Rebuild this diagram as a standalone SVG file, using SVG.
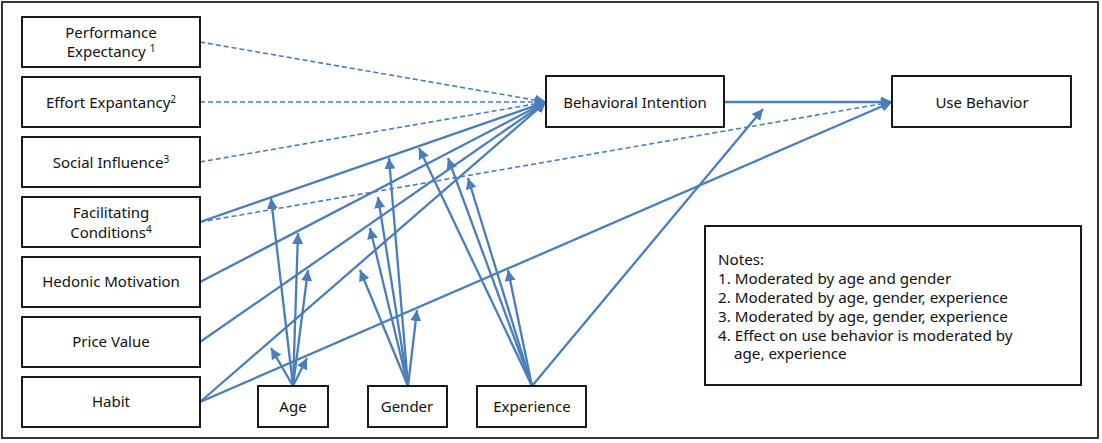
<svg xmlns="http://www.w3.org/2000/svg" width="1102" height="443" viewBox="0 0 1102 443">
<defs>
<style>
.box{fill:#fff;stroke:#000;stroke-width:1.8}
.lbl{font-family:"Noto Sans","Liberation Sans",sans-serif;font-size:15px;fill:#111;text-anchor:middle}
.note{font-family:"Noto Sans","Liberation Sans",sans-serif;font-size:15.2px;fill:#111}
.sup{font-size:10px}
.c{fill:none;stroke:#4A7EBB;stroke-width:2.3;marker-end:url(#ah)}
.d{fill:none;stroke:#4A7EBB;stroke-width:1.6;stroke-dasharray:5 3;marker-end:url(#ah)}
</style>
<marker id="ah" markerUnits="userSpaceOnUse" markerWidth="12" markerHeight="11" refX="11" refY="5.5" orient="auto">
<path d="M0,0 L11,5.5 L0,11 z" fill="#4A7EBB"/>
</marker>
</defs>
<rect x="2" y="2" width="1096" height="436" fill="#fff" stroke="#222" stroke-width="1.8"/>

<g id="connectors">
<path class="d" d="M200,42 L546,102"/>
<path class="d" d="M200,102 L546,102"/>
<path class="d" d="M200,162 L546,102"/>
<path class="d" d="M200,222 L892,102"/>
<path class="c" d="M200,222 L546,102"/>
<path class="c" d="M200,282 L546,102"/>
<path class="c" d="M200,342 L546,102"/>
<path class="c" d="M200,402 L546,102"/>
<path class="c" d="M200,402 L892,102"/>
<path class="c" d="M724,102 L892,102"/>
<path class="c" d="M293,386 L271,198"/>
<path class="c" d="M293,386 L298,233"/>
<path class="c" d="M293,386 L308,270"/>
<path class="c" d="M293,386 L271,348"/>
<path class="c" d="M293,386 L307,358"/>
<path class="c" d="M408,386 L360,270"/>
<path class="c" d="M408,386 L370,228"/>
<path class="c" d="M408,386 L378,197"/>
<path class="c" d="M408,386 L389,158"/>
<path class="c" d="M408,386 L417,310"/>
<path class="c" d="M532,386 L419,148"/>
<path class="c" d="M532,386 L448,158"/>
<path class="c" d="M532,386 L468,178"/>
<path class="c" d="M532,386 L508,270"/>
<path class="c" d="M532,386 L763,109"/>
</g>

<g id="pe"><rect class="box" x="22" y="17" width="178" height="50"/>
<text class="lbl" x="111" y="38">Performance</text>
<text class="lbl" x="111" y="57">Expectancy <tspan class="sup" dy="-5">1</tspan></text></g>
<g id="ee"><rect class="box" x="22" y="77" width="178" height="50"/>
<text class="lbl" x="111" y="108">Effort Expantancy<tspan class="sup" dy="-5">2</tspan></text></g>
<g id="si"><rect class="box" x="22" y="137" width="178" height="50"/>
<text class="lbl" x="111" y="168">Social Influence<tspan class="sup" dy="-5">3</tspan></text></g>
<g id="fc"><rect class="box" x="22" y="197" width="178" height="50"/>
<text class="lbl" x="111" y="218">Facilitating</text>
<text class="lbl" x="111" y="238">Conditions<tspan class="sup" dy="-5">4</tspan></text></g>
<g id="hm"><rect class="box" x="22" y="257" width="178" height="50"/>
<text class="lbl" x="111" y="287">Hedonic Motivation</text></g>
<g id="pv"><rect class="box" x="22" y="317" width="178" height="50"/>
<text class="lbl" x="111" y="347">Price Value</text></g>
<g id="hb"><rect class="box" x="22" y="377" width="178" height="50"/>
<text class="lbl" x="111" y="407">Habit</text></g>

<g id="bi"><rect class="box" x="546" y="76" width="178" height="51"/>
<text class="lbl" x="635" y="108">Behavioral Intention</text></g>
<g id="ub"><rect class="box" x="892" y="76" width="179" height="51"/>
<text class="lbl" x="982" y="108">Use Behavior</text></g>

<g id="age"><rect class="box" x="258" y="386" width="70" height="41"/>
<text class="lbl" x="293" y="412">Age</text></g>
<g id="gender"><rect class="box" x="368" y="386" width="79" height="41"/>
<text class="lbl" x="407" y="412">Gender</text></g>
<g id="experience"><rect class="box" x="477" y="386" width="109" height="41"/>
<text class="lbl" x="532" y="412">Experience</text></g>

<g id="notes"><rect class="box" x="705" y="226" width="376" height="159"/>
<text class="note" x="718" y="265">Notes:</text>
<text class="note" x="718" y="284">1. Moderated by age and gender</text>
<text class="note" x="718" y="303">2. Moderated by age, gender, experience</text>
<text class="note" x="718" y="322">3. Moderated by age, gender, experience</text>
<text class="note" x="718" y="341">4. Effect on use behavior is moderated by</text>
<text class="note" x="734" y="359">age, experience</text></g>
</svg>
